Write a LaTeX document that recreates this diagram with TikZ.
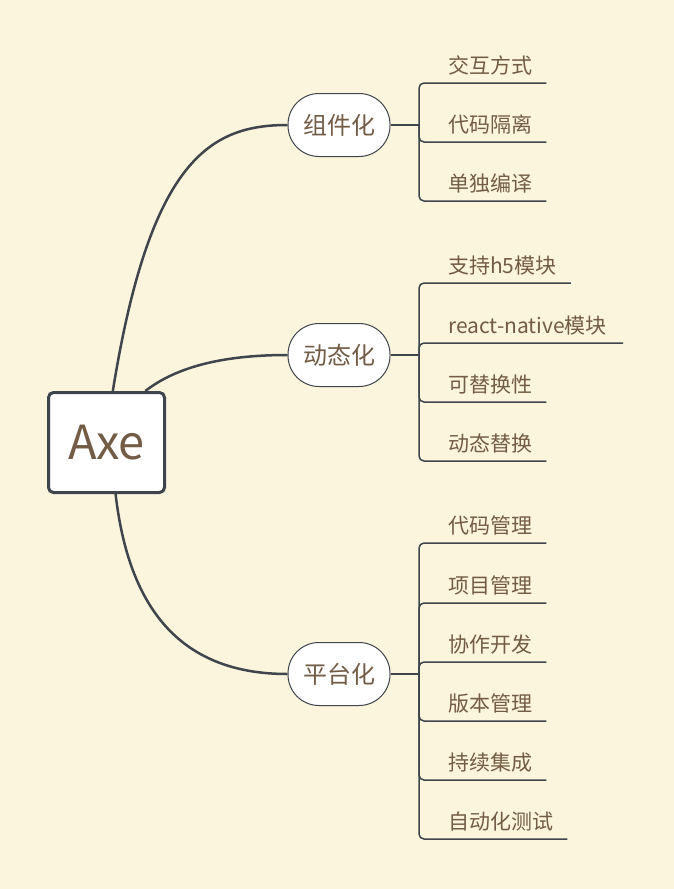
\documentclass[tikz,border=0pt]{standalone}
\usepackage{fontspec}
\setmainfont{Noto Sans CJK SC}
\usetikzlibrary{positioning}
\definecolor{mapbg}{HTML}{FBF5DD}
\definecolor{maptext}{HTML}{735C45}
\definecolor{mapline}{HTML}{3E454C}

\begin{document}
\begin{tikzpicture}[x=1pt,y=-1pt]
        % Define styles
        \tikzstyle{root} = [rectangle, rounded corners=5pt, minimum width=116pt, minimum height=100pt, draw=mapline, fill=white, line width=3pt, text=maptext, font=\fontsize{47}{50}\selectfont]
        \tikzstyle{topic} = [rectangle, rounded corners=31pt, minimum width=102pt, minimum height=63pt, draw=mapline, fill=white, line width=1pt, text=maptext, font=\fontsize{24}{28}\selectfont]
        \tikzstyle{leaf} = [anchor=south west, inner xsep=14pt, inner ysep=6pt, text height=17pt, text depth=3pt, text=maptext, font=\fontsize{21}{24}\selectfont]
        \tikzstyle{curve} = [draw=mapline, line width=2.5pt]
        \tikzstyle{branch} = [draw=mapline, line width=1.5pt, rounded corners=5pt]

        % Background
        \fill[mapbg] (0,0) rectangle (674,889);
        \useasboundingbox (0,0) rectangle (674,889);

        % Root and topics
        \node (axe) [root] at (106.5,442.5) {\raisebox{-2pt}{Axe}};
        \node (zujian) [topic] at (339,125) {组件化};
        \node (dongtai) [topic] at (339,355) {动态化};
        \node (pingtai) [topic] at (339,674) {平台化};

        % Curves from root
        \draw[curve] (axe.83) .. controls (150,160) and (210,125) .. (zujian.west);
        \draw[curve] (axe.53) .. controls (175,368) and (220,355) .. (dongtai.west);
        \draw[curve] (axe.-80) .. controls (130,620) and (190,674) .. (pingtai.west);

        % Hubs
        \coordinate (hubA) at (419,125);
        \coordinate (hubB) at (419,355);
        \coordinate (hubC) at (419,674);
        \draw[branch] (zujian.east) -- (hubA);
        \draw[branch] (dongtai.east) -- (hubB);
        \draw[branch] (pingtai.east) -- (hubC);

        % Leaves of 组件化
        \node (a1) [leaf] at (434,83) {交互方式};
        \node (a2) [leaf] at (434,142) {代码隔离};
        \node (a3) [leaf] at (434,201) {单独编译};
        \draw[branch] (hubA) |- (a1.south east);
        \draw[branch] (hubA) |- (a2.south east);
        \draw[branch] (hubA) |- (a3.south east);

        % Leaves of 动态化
        \node (b1) [leaf] at (434,283) {支持h5模块};
        \node (b2) [leaf, inner xsep=16pt] at (432,343) {react-native模块};
        \node (b3) [leaf] at (434,402) {可替换性};
        \node (b4) [leaf] at (434,461) {动态替换};
        \draw[branch] (hubB) |- (b1.south east);
        \draw[branch] (hubB) |- (b2.south east);
        \draw[branch] (hubB) |- (b3.south east);
        \draw[branch] (hubB) |- (b4.south east);

        % Leaves of 平台化
        \node (c1) [leaf] at (434,543) {代码管理};
        \node (c2) [leaf] at (434,603) {项目管理};
        \node (c3) [leaf] at (434,662) {协作开发};
        \node (c4) [leaf] at (434,721) {版本管理};
        \node (c5) [leaf] at (434,780) {持续集成};
        \node (c6) [leaf] at (434,839) {自动化测试};
        \draw[branch] (hubC) |- (c1.south east);
        \draw[branch] (hubC) |- (c2.south east);
        \draw[branch] (hubC) |- (c3.south east);
        \draw[branch] (hubC) |- (c4.south east);
        \draw[branch] (hubC) |- (c5.south east);
        \draw[branch] (hubC) |- (c6.south east);

    \end{tikzpicture}
\end{document}
